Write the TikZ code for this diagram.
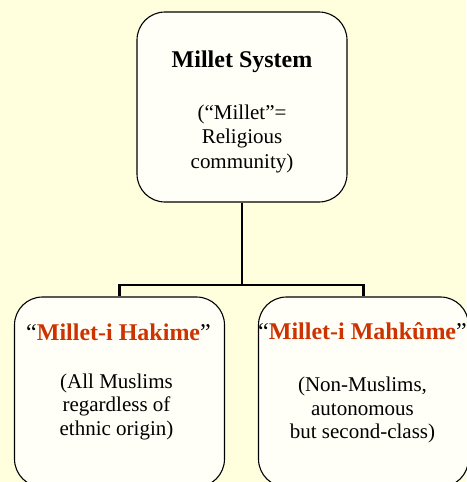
\documentclass[tikz,border=0pt]{standalone}
\usepackage{fontspec}
\setmainfont{Liberation Serif}
\usetikzlibrary{positioning}

\definecolor{paper}{HTML}{FFFFDD}
\definecolor{boxfill}{HTML}{FFFFF8}
\definecolor{milletred}{HTML}{CC3300}

\begin{document}
\begin{tikzpicture}[x=1pt,y=-1pt,
  box/.style={draw, line width=1.1pt, rounded corners=28pt, fill=boxfill, minimum width=210pt, minimum height=190pt, inner sep=0pt},
  title/.style={inner sep=0pt, font=\bfseries\fontsize{24}{28}\selectfont},
  body/.style={inner sep=0pt, align=center, font=\fontsize{21}{23.3}\selectfont},
  link/.style={line width=2.8pt}]

  \fill[paper] (0,0) rectangle (466,482);
  \useasboundingbox (0,0) rectangle (466,482);

  % connectors
  \coordinate (fork) at (242,285);
  \node[box] (sys) at (242,107) {};
  \draw[link] (sys.south) -- (fork);
  \node[box] (hak) at (119.5,392) {};
  \node[box] (mah) at (363.5,392) {};
  \draw[link] (fork) -| (hak.north);
  \draw[link] (fork) -| (mah.north);

  % texts
  \node[title] (systitle) [below=39pt of sys.north] {Millet System};
  \node[body, font=\fontsize{21}{24.5}\selectfont] (sysnote) [below=32pt of systitle] {(“Millet”=\\Religious\\community)};

  \node[title] (haktitle) [below=27pt of hak.north, xshift=-1pt] {{\mdseries “}\textcolor{milletred}{Millet-i Hakime}{\mdseries ”}};
  \node[body] (haknote) [below=33pt of haktitle, xshift=-2pt] {(All Muslims\\regardless of\\ethnic origin)};

  \node[title] (mahtitle) [below=26pt of mah.north, xshift=-1pt] {{\mdseries “}\textcolor{milletred}{Millet-i Mahkûme}{\mdseries ”}};
  \node[body] (mahnote) [below=37pt of mahtitle] {(Non-Muslims,\\autonomous\\but second-class)};
\end{tikzpicture}
\end{document}
